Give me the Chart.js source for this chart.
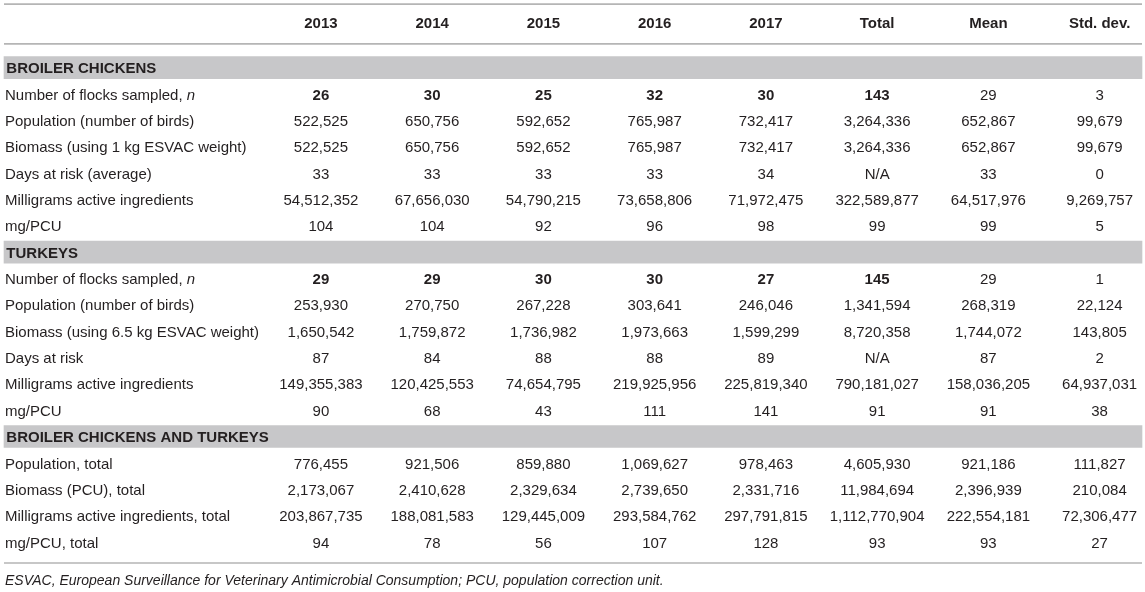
<!DOCTYPE html>
<html>
<head>
<meta charset="utf-8">
<script src="https://cdn.jsdelivr.net/npm/chart.js@4.4.1/dist/chart.umd.min.js"></script>
<style>
html,body{margin:0;padding:0;background:#fff;}
#wrap{width:1145px;height:592px;position:relative;}
</style>
</head>
<body>
<div id="wrap"><canvas id="c" width="1145" height="592"></canvas></div>
<script>
// ---------- DATA ----------
const columns = ['2013', '2014', '2015', '2016', '2017', 'Total', 'Mean', 'Std. dev.'];
const sections = ['BROILER CHICKENS', 'TURKEYS', 'BROILER CHICKENS AND TURKEYS'];

const broilerLabels = ['Number of flocks sampled, n', 'Population (number of birds)', 'Biomass (using 1 kg ESVAC weight)', 'Days at risk (average)', 'Milligrams active ingredients', 'mg/PCU'];
const broilerFlocks = [26, 30, 25, 32, 30, 143, 29, 3];
const broilerPopulation = [522525, 650756, 592652, 765987, 732417, 3264336, 652867, 99679];
const broilerBiomass = [522525, 650756, 592652, 765987, 732417, 3264336, 652867, 99679];
const broilerDays = [33, 33, 33, 33, 34, null, 33, 0];
const broilerMg = [54512352, 67656030, 54790215, 73658806, 71972475, 322589877, 64517976, 9269757];
const broilerMgPcu = [104, 104, 92, 96, 98, 99, 99, 5];

const turkeyLabels = ['Number of flocks sampled, n', 'Population (number of birds)', 'Biomass (using 6.5 kg ESVAC weight)', 'Days at risk', 'Milligrams active ingredients', 'mg/PCU'];
const turkeyFlocks = [29, 29, 30, 30, 27, 145, 29, 1];
const turkeyPopulation = [253930, 270750, 267228, 303641, 246046, 1341594, 268319, 22124];
const turkeyBiomass = [1650542, 1759872, 1736982, 1973663, 1599299, 8720358, 1744072, 143805];
const turkeyDays = [87, 84, 88, 88, 89, null, 87, 2];
const turkeyMg = [149355383, 120425553, 74654795, 219925956, 225819340, 790181027, 158036205, 64937031];
const turkeyMgPcu = [90, 68, 43, 111, 141, 91, 91, 38];

const totalLabels = ['Population, total', 'Biomass (PCU), total', 'Milligrams active ingredients, total', 'mg/PCU, total'];
const totalPopulation = [776455, 921506, 859880, 1069627, 978463, 4605930, 921186, 111827];
const totalBiomass = [2173067, 2410628, 2329634, 2739650, 2331716, 11984694, 2396939, 210084];
const totalMg = [203867735, 188081583, 129445009, 293584762, 297791815, 1112770904, 222554181, 72306477];
const totalMgPcu = [94, 78, 56, 107, 128, 93, 93, 27];

const boldColumnsInFlockRow = ['2013', '2014', '2015', '2016', '2017', 'Total'];
const footnote = 'ESVAC, European Surveillance for Veterinary Antimicrobial Consumption; PCU, population correction unit.';

// ---------- TABLE STRUCTURE ----------
const rows = [];
rows.push({ type: 'section', text: sections[0] });
[broilerFlocks, broilerPopulation, broilerBiomass, broilerDays, broilerMg, broilerMgPcu]
  .forEach((v, i) => rows.push({ type: 'data', label: broilerLabels[i], values: v, flock: i === 0 }));
rows.push({ type: 'section', text: sections[1] });
[turkeyFlocks, turkeyPopulation, turkeyBiomass, turkeyDays, turkeyMg, turkeyMgPcu]
  .forEach((v, i) => rows.push({ type: 'data', label: turkeyLabels[i], values: v, flock: i === 0 }));
rows.push({ type: 'section', text: sections[2] });
[totalPopulation, totalBiomass, totalMg, totalMgPcu]
  .forEach((v, i) => rows.push({ type: 'data', label: totalLabels[i], values: v, flock: false }));

const sectionRows = rows.map((r, i) => r.type === 'section' ? i : -1).filter(i => i >= 0);

// layout in scale units (rows along y, columns along x)
const X_MIN = -2.885, X_MAX = 7.408;
const Y_MIN = -2.566, Y_MAX = 19.90;
const X_LEFT = -2.849, X_RIGHT = 7.381, X_LABEL = -2.840, X_SECTION = -2.828;
const Y_HEADER = -1.73, Y_TOPRULE = -2.41, Y_HEADRULE = -0.90, Y_BOTTOMRULE = 18.80, Y_FOOT = 19.42;
const TEXT_DY = 1.5;

const FONT = '"Liberation Sans", Arial, Helvetica, sans-serif';
const TEXT = '#231f20';
const RULE = '#b5b5b5';
const BAND = '#c7c7c9';

function fmt(v) {
  if (v === null || v === undefined) return 'N/A';
  return String(v).replace(/\B(?=(\d{3})+(?!\d))/g, ',');
}

const tablePlugin = {
  id: 'tableText',
  afterDatasetsDraw(chart) {
    const ctx = chart.ctx;
    const xs = chart.scales.x, ys = chart.scales.y;
    ctx.save();
    ctx.fillStyle = TEXT;
    ctx.textBaseline = 'middle';

    // header
    ctx.font = 'bold 15px ' + FONT;
    ctx.textAlign = 'center';
    columns.forEach((c, i) => ctx.fillText(c, xs.getPixelForValue(i), ys.getPixelForValue(Y_HEADER) + TEXT_DY));

    rows.forEach((r, ri) => {
      const y = ys.getPixelForValue(ri) + TEXT_DY;
      if (r.type === 'section') {
        ctx.font = 'bold 15px ' + FONT;
        ctx.textAlign = 'left';
        ctx.fillText(r.text, xs.getPixelForValue(X_SECTION), y);
        return;
      }
      // label
      ctx.textAlign = 'left';
      ctx.font = '15px ' + FONT;
      const lx = xs.getPixelForValue(X_LABEL);
      if (r.label.endsWith(', n')) {
        const base = r.label.slice(0, -1);
        ctx.fillText(base, lx, y);
        const w = ctx.measureText(base).width;
        ctx.font = 'italic 15px ' + FONT;
        ctx.fillText('n', lx + w, y);
      } else {
        ctx.fillText(r.label, lx, y);
      }
      // values
      ctx.textAlign = 'center';
      r.values.forEach((v, ci) => {
        const bold = r.flock && boldColumnsInFlockRow.includes(columns[ci]);
        ctx.font = (bold ? 'bold ' : '') + '15px ' + FONT;
        ctx.fillText(fmt(v), xs.getPixelForValue(ci), y);
      });
    });

    // footnote
    ctx.textAlign = 'left';
    ctx.font = 'italic 14px ' + FONT;
    ctx.fillText(footnote, xs.getPixelForValue(X_LABEL), ys.getPixelForValue(Y_FOOT) + TEXT_DY);
    ctx.restore();
  }
};

function rule(yv) {
  return {
    type: 'line',
    data: [{ x: X_LEFT, y: yv }, { x: X_RIGHT, y: yv }],
    borderColor: RULE,
    borderWidth: 1.6,
    pointRadius: 0,
    tension: 0,
    clip: false,
    order: 1
  };
}

new Chart(document.getElementById('c'), {
  type: 'line',
  data: {
    datasets: [
      {
        type: 'bar',
        indexAxis: 'y',
        data: sectionRows.map(i => ({ x: [X_LEFT, X_RIGHT], y: i })),
        backgroundColor: BAND,
        borderWidth: 0,
        barThickness: 22,
        clip: false,
        order: 2
      },
      rule(Y_TOPRULE),
      rule(Y_HEADRULE),
      rule(Y_BOTTOMRULE)
    ]
  },
  options: {
    responsive: false,
    animation: false,
    events: [],
    layout: { padding: 0, autoPadding: false },
    plugins: { legend: { display: false }, tooltip: { enabled: false } },
    scales: {
      x: { type: 'linear', min: X_MIN, max: X_MAX, offset: false, beginAtZero: false, grace: 0, display: false },
      y: { type: 'linear', min: Y_MIN, max: Y_MAX, offset: false, beginAtZero: false, grace: 0, reverse: true, display: false }
    }
  },
  plugins: [tablePlugin]
});
</script>
</body>
</html>
